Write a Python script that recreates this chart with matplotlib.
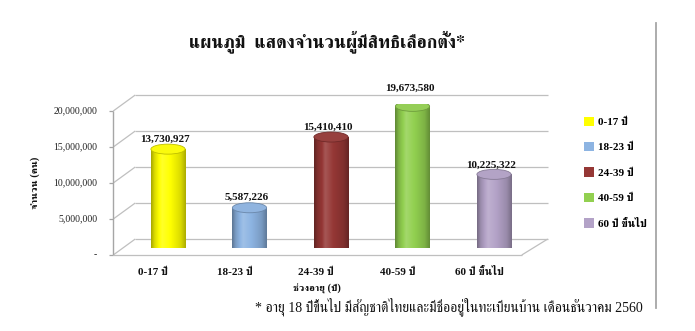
import numpy as np
import matplotlib
matplotlib.use("Agg")
import matplotlib.pyplot as plt
import matplotlib.colors as mcolors
from matplotlib import font_manager
from matplotlib.ft2font import FT2Font
from matplotlib.patches import Ellipse, Patch
from matplotlib.lines import Line2D

# ---- data -------------------------------------------------------------
age_groups = ["0-17 ปี", "18-23 ปี", "24-39 ปี", "40-59 ปี", "60 ปี ขึ้นไป"]
voters = [13730927, 5587226, 15410410, 19673580, 10225322]
bar_colors = ["#FFFF00", "#8DB4E2", "#953735", "#92D050", "#B3A2C7"]
y_ticks = [0, 5000000, 10000000, 15000000, 20000000]
y_tick_labels = ["-", "5,000,000", "10,000,000", "15,000,000", "20,000,000"]

title = "แผนภูมิ  แสดงจำนวนผู้มีสิทธิเลือกตั้ง*"
x_title = "ช่วงอายุ (ปี)"
y_title = "จำนวน (คน)"
note = "* อายุ 18 ปีขึ้นไป มีสัญชาติไทยและมีชื่ออยู่ในทะเบียนบ้าน เดือนธันวาคม 2560"

# vertical gap (pixels) between each cylinder top and its value label
label_lift = [5, 6, 5, 14, 5]


# ---- fonts: find an installed face that carries Thai glyphs -------------
def find_thai_family():
    best, best_score = None, -1
    for f in font_manager.fontManager.ttflist:
        try:
            ft = FT2Font(f.fname)
            if ft.get_char_index(ord("ก")) == 0:
                continue
        except Exception:
            continue
        name = f.name.lower()
        score = 1
        if "serif" in name and "sans" not in name:
            score += 3
        if score > best_score:
            best, best_score = f.name, score
    return best


thai = find_thai_family()
serif_fam = ["Liberation Serif"] + ([thai] if thai else []) + ["DejaVu Sans"]
thai_fam = ([thai] if thai else []) + ["Liberation Serif", "DejaVu Sans"]

# ---- figure & axes ----------------------------------------------------
W, H = 695, 331
fig = plt.figure(figsize=(W / 100, H / 100), dpi=100)


def px_box(x0, y_top, x1, y_bot):
    return [x0 / W, 1 - y_bot / H, (x1 - x0) / W, (y_bot - y_top) / H]


ax = fig.add_axes(px_box(127.25, 104, 534.75, 248))
ax.set_xlim(-0.5, 4.5)
ax.set_ylim(0, 20000000)
ax.axis("off")

x_pos = np.arange(len(voters))
x_lo, x_hi = -0.5, 4.5

# depth offsets (pixels) of the front edge and the back wall
FRONT_L, FRONT_R = (-14, -7), (-13, -7)
BACK_L, BACK_R = (8, 9), (13, 9)


def fig_pt(x, y, off):
    d = ax.transData.transform((x, y)) + np.asarray(off, float)
    return fig.transFigure.inverted().transform(d)


def seg(p, q, color, lw):
    ax.add_artist(Line2D([p[0], q[0]], [p[1], q[1]], transform=fig.transFigure,
                         color=color, lw=lw, solid_capstyle="butt",
                         clip_on=False, zorder=1))


grid_c = "#BFBFBF"
axis_c = "#A6A6A6"

# back wall grid lines and diagonals to the front axis
for t, lbl in zip(y_ticks, y_tick_labels):
    seg(fig_pt(x_lo, t, BACK_L), fig_pt(x_hi, t, BACK_R), grid_c, 0.9)
    seg(fig_pt(x_lo, t, FRONT_L), fig_pt(x_lo, t, BACK_L), grid_c, 0.9)
    seg(fig_pt(x_lo, t, FRONT_L), fig_pt(x_lo, t, (FRONT_L[0] - 4, FRONT_L[1])),
        axis_c, 0.9)
    ax.annotate(lbl, xy=(x_lo, t),
                xytext=(FRONT_L[0] - 16, FRONT_L[1]), textcoords="offset pixels",
                ha="right", va="center", fontsize=7, family=serif_fam,
                color="#222222", annotation_clip=False)

# front vertical axis
seg(fig_pt(x_lo, 0, FRONT_L), fig_pt(x_lo, y_ticks[-1], FRONT_L), axis_c, 1.0)
# floor: front edge and right side
seg(fig_pt(x_lo, 0, FRONT_L), fig_pt(x_hi, 0, FRONT_R), grid_c, 0.9)
seg(fig_pt(x_hi, 0, FRONT_R), fig_pt(x_hi, 0, BACK_R), grid_c, 0.9)

# ---- cylinders ----------------------------------------------------------
bw = 0.42
py_per_val = (ax.transData.transform((0, 1e6))[1] - ax.transData.transform((0, 0))[1]) / 1e6
ell_h = 10.0 / py_per_val

bars = ax.bar(x_pos, voters, width=bw, color="none", edgecolor="none", zorder=2)


def shade(color, n=64):
    base = np.array(mcolors.to_rgb(color))
    t = np.linspace(0, 1, n)
    m = np.interp(t, [0, 0.1, 0.32, 0.6, 0.85, 1], [0.66, 0.86, 1.10, 0.98, 0.86, 0.68])
    out = np.empty((1, n, 3))
    for k, mk in enumerate(m):
        if mk >= 1:
            out[0, k] = base + (1 - base) * (mk - 1) * 1.6
        else:
            out[0, k] = base * mk
    return np.clip(out, 0, 1)


for i, (rect, v, c) in enumerate(zip(bars, voters, bar_colors)):
    x0 = rect.get_x()
    g = shade(c)
    im = ax.imshow(g, extent=(x0, x0 + bw, -ell_h, v), aspect="auto",
                   interpolation="bilinear", zorder=2)
    im.set_clip_path(rect)
    bottom = Ellipse((x_pos[i], 0), bw, ell_h, facecolor="none", edgecolor="none")
    ax.add_patch(bottom)
    im2 = ax.imshow(g, extent=(x0, x0 + bw, -ell_h, v), aspect="auto",
                    interpolation="bilinear", zorder=2)
    im2.set_clip_path(bottom)
    base = np.array(mcolors.to_rgb(c))
    top_fc = np.clip(base * 0.93 + 0.05, 0, 1)
    top_ec = base * 0.75
    ax.add_patch(Ellipse((x_pos[i], v), bw, ell_h, facecolor=top_fc,
                         edgecolor=top_ec, lw=0.6, zorder=3))
    ax.annotate(f"{v:,}", xy=(x_pos[i], v), xytext=(-3, label_lift[i]),
                textcoords="offset pixels",
                ha="center", va="bottom", fontsize=8, fontweight="bold",
                family=serif_fam, color="#111111", annotation_clip=False, zorder=5)
    ax.annotate(age_groups[i], xy=(x_pos[i], 0), xytext=(-15, -24),
                textcoords="offset pixels", ha="center", va="center",
                fontsize=8, fontweight="bold", family=serif_fam,
                color="#111111", annotation_clip=False)

ax.set_xlim(-0.5, 4.5)
ax.set_ylim(0, 20000000)

# ---- titles & notes -------------------------------------------------------
fig.text(327 / W, 1 - 42 / H, title, ha="center", va="center", fontsize=13,
         fontweight="bold", family=thai_fam, color="#111111")
fig.text(317 / W, 1 - 289 / H, x_title, ha="center", va="center", fontsize=7.5,
         fontweight="bold", family=serif_fam, color="#111111")
fig.text(35 / W, 1 - 183 / H, y_title, ha="center", va="center", fontsize=7.5,
         rotation=90, fontweight="bold", family=serif_fam, color="#111111")
fig.text(255 / W, 1 - 307 / H, note, ha="left", va="center", fontsize=10,
         family=serif_fam, color="#111111")

# legend
handles = [Patch(facecolor=c, edgecolor="none") for c in bar_colors]
fig.legend(handles, age_groups, loc="upper left", bbox_to_anchor=(578 / W, 1 - 111 / H),
           frameon=False, borderpad=0, handlelength=0.9, handleheight=0.9,
           handletextpad=0.4, labelspacing=1.35,
           prop={"family": serif_fam, "weight": "bold", "size": 8})

# right-hand separator line
fig.add_artist(Line2D([656 / W, 656 / W], [1 - 23 / H, 1 - 308 / H],
                      transform=fig.transFigure, color="#A6A6A6", lw=1.3))

fig.savefig("out.png", dpi=100, facecolor="white")
